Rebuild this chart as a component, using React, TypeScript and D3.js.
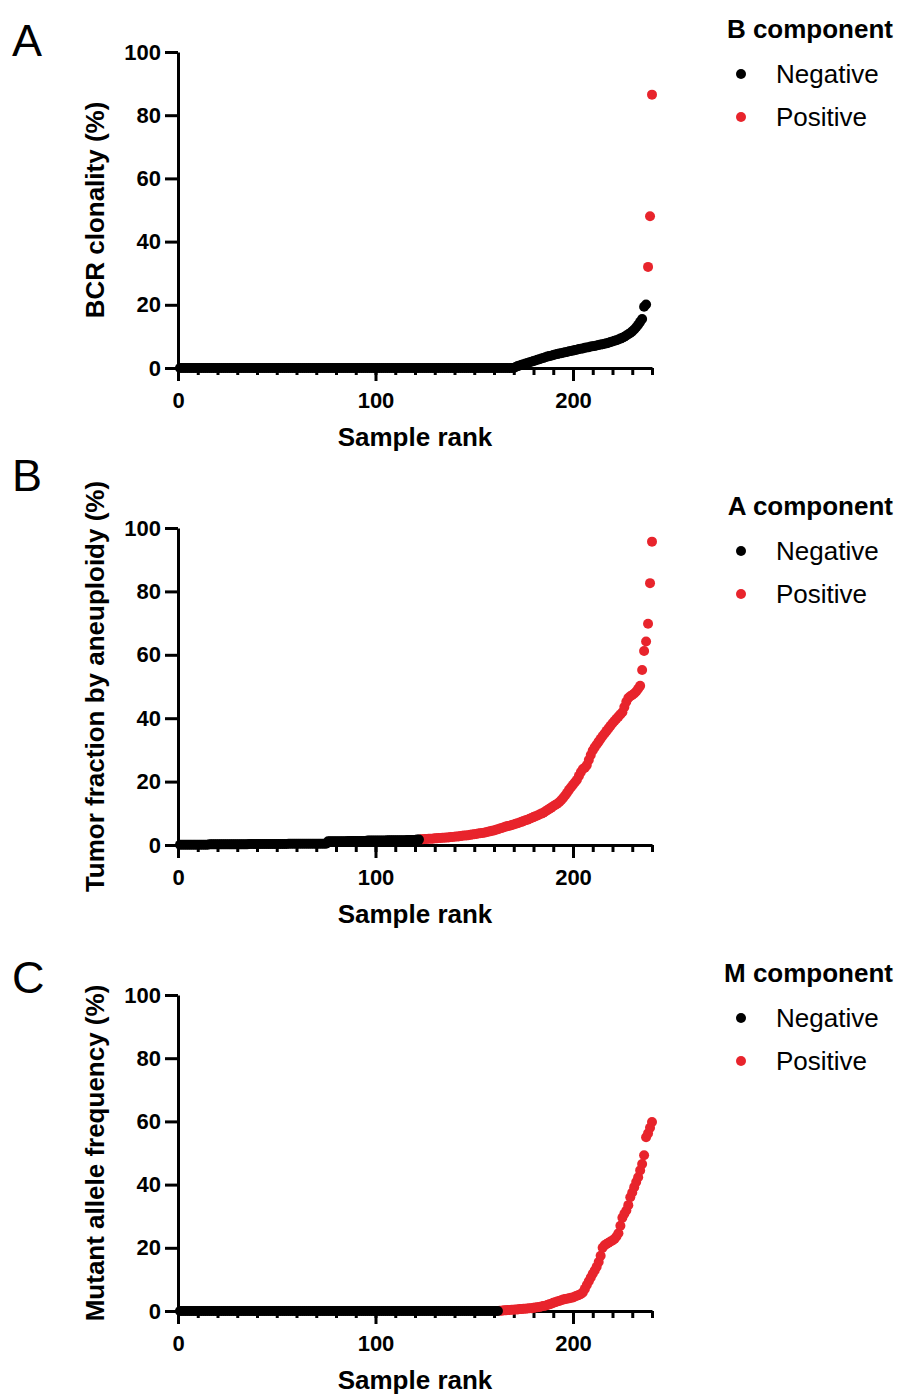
import { useEffect, useRef } from "react";
import * as d3 from "d3";

// sorted values per sample rank, split by call (negative ranks come first)
const BCR_NEGATIVE = [
  0, 0, 0, 0, 0, 0, 0, 0, 0, 0, 0, 0, 0, 0, 0, 0, 0, 0, 0, 0,
  0, 0, 0, 0, 0, 0, 0, 0, 0, 0, 0, 0, 0, 0, 0, 0, 0, 0, 0, 0,
  0, 0, 0, 0, 0, 0, 0, 0, 0, 0, 0, 0, 0, 0, 0, 0, 0, 0, 0, 0,
  0, 0, 0, 0, 0, 0, 0, 0, 0, 0, 0, 0, 0, 0, 0, 0, 0, 0, 0, 0,
  0, 0, 0, 0, 0, 0, 0, 0, 0, 0, 0, 0, 0, 0, 0, 0, 0, 0, 0, 0,
  0, 0, 0, 0, 0, 0, 0, 0, 0, 0, 0, 0, 0, 0, 0, 0, 0, 0, 0, 0,
  0, 0, 0, 0, 0, 0, 0, 0, 0, 0, 0, 0, 0, 0, 0, 0, 0, 0, 0, 0,
  0, 0, 0, 0, 0, 0, 0, 0, 0, 0, 0, 0, 0, 0, 0, 0, 0, 0, 0, 0,
  0, 0, 0, 0, 0, 0, 0, 0, 0, 0,
  0.3, 0.6, 0.8, 1.0, 1.2, 1.4, 1.6, 1.8, 2.0, 2.2,
  2.4, 2.6, 2.8, 3.0, 3.2, 3.4, 3.6, 3.8, 3.9, 4.1,
  4.3, 4.4, 4.6, 4.7, 4.8, 5.0, 5.1, 5.3, 5.4, 5.5,
  5.7, 5.8, 6.0, 6.1, 6.2, 6.4, 6.5, 6.6, 6.8, 6.9,
  7.0, 7.1, 7.3, 7.4, 7.5, 7.7, 7.8, 8.0, 8.2, 8.4,
  8.6, 8.8, 9.0, 9.3, 9.6, 9.9, 10.3, 10.7, 11.1, 11.6,
  12.2, 12.9, 13.7, 14.6, 15.5, 19.4, 20.1,
];
const BCR_POSITIVE = [32.0, 48.0, 86.5];

const ANEU_NEGATIVE = [
  0.1, 0.1, 0.1, 0.1, 0.1, 0.1, 0.1, 0.1, 0.1, 0.1, 0.1, 0.1, 0.1, 0.1, 0.1,
  0.2, 0.2, 0.2, 0.2, 0.2, 0.2, 0.2, 0.2, 0.2, 0.2, 0.2, 0.2, 0.2, 0.2, 0.2, 0.2, 0.2, 0.2, 0.2, 0.2,
  0.3, 0.3, 0.3, 0.3, 0.3, 0.3, 0.3, 0.3, 0.3, 0.3, 0.3, 0.3, 0.3, 0.3, 0.3, 0.3, 0.3, 0.3, 0.3, 0.3,
  0.4, 0.4, 0.4, 0.4, 0.4, 0.4, 0.4, 0.4, 0.4, 0.4, 0.4, 0.4, 0.4, 0.4, 0.4, 0.4, 0.4, 0.4, 0.4, 0.4,
  1.2, 1.2, 1.2, 1.2, 1.2, 1.2, 1.2, 1.2, 1.2, 1.2,
  1.3, 1.3, 1.3, 1.3, 1.3, 1.3, 1.3, 1.3, 1.3, 1.3,
  1.4, 1.4, 1.4, 1.4, 1.4, 1.4, 1.4, 1.4, 1.4, 1.4,
  1.5, 1.5, 1.5, 1.5, 1.5, 1.5, 1.5, 1.5, 1.5, 1.5,
  1.6, 1.6, 1.6, 1.6, 1.6, 1.7, 1.7,
];
const ANEU_POSITIVE = [
  1.8, 1.8, 1.9, 1.9, 2.0, 2.0, 2.0, 2.1,
  2.1, 2.2, 2.2, 2.3, 2.3, 2.4, 2.4, 2.5, 2.5, 2.6,
  2.7, 2.7, 2.8, 2.9, 3.0, 3.0, 3.1, 3.2, 3.3, 3.4,
  3.5, 3.6, 3.7, 3.8, 3.9, 4.0, 4.2, 4.3, 4.5, 4.6,
  4.8, 5.0, 5.2, 5.4, 5.6, 5.8, 6.0, 6.1, 6.3, 6.5,
  6.7, 6.9, 7.1, 7.3, 7.6, 7.8, 8.0, 8.3, 8.5, 8.8,
  9.1, 9.3, 9.6, 9.9, 10.2, 10.6, 11.0, 11.4, 11.8, 12.2,
  12.6, 13.0, 13.5, 14.1, 14.8, 15.6, 16.5, 17.4, 18.2, 19.0,
  19.8, 20.6, 21.8, 23.0, 24.0, 24.4, 25.2, 26.8, 28.4, 29.8,
  30.8, 31.7, 32.6, 33.5, 34.4, 35.2, 36.0, 36.8, 37.6, 38.4,
  39.1, 39.8, 40.5, 41.2, 41.9, 43.5, 45.2, 46.4, 46.9, 47.3,
  47.8, 48.4, 49.3, 50.2, 55.2, 61.2, 64.2, 69.8, 82.6, 95.7,
];

const MAF_NEGATIVE = [
  0, 0, 0, 0, 0, 0, 0, 0, 0, 0, 0, 0, 0, 0, 0, 0, 0, 0, 0, 0,
  0, 0, 0, 0, 0, 0, 0, 0, 0, 0, 0, 0, 0, 0, 0, 0, 0, 0, 0, 0,
  0, 0, 0, 0, 0, 0, 0, 0, 0, 0, 0, 0, 0, 0, 0, 0, 0, 0, 0, 0,
  0, 0, 0, 0, 0, 0, 0, 0, 0, 0, 0, 0, 0, 0, 0, 0, 0, 0, 0, 0,
  0, 0, 0, 0, 0, 0, 0, 0, 0, 0, 0, 0, 0, 0, 0, 0, 0, 0, 0, 0,
  0, 0, 0, 0, 0, 0, 0, 0, 0, 0, 0, 0, 0, 0, 0, 0, 0, 0, 0, 0,
  0, 0, 0, 0, 0, 0, 0, 0, 0, 0, 0, 0, 0, 0, 0, 0, 0, 0, 0, 0,
  0, 0, 0, 0, 0, 0, 0, 0, 0, 0, 0, 0, 0, 0, 0, 0, 0, 0, 0, 0,
  0, 0,
];
const MAF_POSITIVE = [
  0.1, 0.1, 0.2, 0.2, 0.3, 0.3, 0.4, 0.4,
  0.5, 0.5, 0.6, 0.6, 0.7, 0.7, 0.8, 0.9, 0.9, 1.0,
  1.1, 1.2, 1.3, 1.4, 1.6, 1.7, 1.9, 2.1, 2.3, 2.6,
  2.8, 3.0, 3.2, 3.4, 3.6, 3.8, 3.9, 4.0, 4.2, 4.3,
  4.6, 4.8, 5.1, 5.4, 5.9, 7.0, 8.2, 9.4, 10.6, 11.8,
  12.8, 14.0, 15.5, 17.5, 20.0, 20.8, 21.2, 21.6, 22.0, 22.3,
  22.8, 23.6, 24.6, 27.0, 29.5, 30.8, 31.8, 33.5, 36.0, 37.5,
  39.2, 40.8, 42.3, 44.5, 46.5, 49.3, 55.0, 56.2, 58.0, 59.8,
];

const Y_TICKS = [0, 20, 40, 60, 80, 100];
const X_TICKS = [0, 100, 200];
const X_MINOR = d3.range(0, 241, 10);
const LEGEND_LABELS = ["Negative", "Positive"];

const RED = "#e8242c";
const FONT = "'Liberation Sans', Arial, sans-serif";

const PANELS = [
  {
    letter: "A", yTitle: "BCR clonality (%)", legendTitle: "B component",
    top: 52, bottom: 368, letterY: 56, legendY: 38,
    negative: BCR_NEGATIVE, positive: BCR_POSITIVE,
  },
  {
    letter: "B", yTitle: "Tumor fraction by aneuploidy (%)", legendTitle: "A component",
    top: 528, bottom: 845, letterY: 491, legendY: 515,
    negative: ANEU_NEGATIVE, positive: ANEU_POSITIVE,
  },
  {
    letter: "C", yTitle: "Mutant allele frequency (%)", legendTitle: "M component",
    top: 995, bottom: 1311, letterY: 993, legendY: 982,
    negative: MAF_NEGATIVE, positive: MAF_POSITIVE,
  },
];

export default function App() {
  const ref = useRef<SVGSVGElement>(null);

  useEffect(() => {
    const svg = d3.select(ref.current);
    svg.selectAll("*").remove();

    const x = d3.scaleLinear().domain([0, 240]).range([178, 652]);

    PANELS.forEach((p) => {
      const g = svg.append("g");
      const y = d3.scaleLinear().domain([0, 100]).range([p.bottom, p.top]);

      // panel letter
      g.append("text")
        .attr("x", 12)
        .attr("y", p.letterY)
        .attr("font-size", 45)
        .attr("font-family", FONT)
        .text(p.letter);

      // y axis
      const yAxis = g
        .append("g")
        .attr("transform", `translate(${x(0)},0)`)
        .call(d3.axisLeft(y).tickValues(Y_TICKS).tickSize(13).tickSizeOuter(0).tickPadding(4));
      yAxis.selectAll("path, line").attr("stroke", "#000").attr("stroke-width", 3);
      yAxis.selectAll("text")
        .attr("font-size", 22)
        .attr("font-weight", "bold")
        .attr("font-family", FONT)
        .attr("fill", "#000");

      // x axis: minor ticks every 10, major every 100
      const xMinor = g
        .append("g")
        .attr("transform", `translate(0,${p.bottom})`)
        .call(d3.axisBottom(x).tickValues(X_MINOR).tickSize(7).tickSizeOuter(0).tickFormat(() => ""));
      xMinor.selectAll("path, line").attr("stroke", "#000").attr("stroke-width", 3);

      const xAxis = g
        .append("g")
        .attr("transform", `translate(0,${p.bottom})`)
        .call(d3.axisBottom(x).tickValues(X_TICKS).tickSize(13).tickSizeOuter(0).tickPadding(11));
      xAxis.select("path").remove();
      xAxis.selectAll("line").attr("stroke", "#000").attr("stroke-width", 3);
      xAxis.selectAll("text")
        .attr("font-size", 22)
        .attr("font-weight", "bold")
        .attr("font-family", FONT)
        .attr("fill", "#000");

      // axis titles
      g.append("text")
        .attr("transform", `translate(104,${(p.top + p.bottom) / 2}) rotate(-90)`)
        .attr("text-anchor", "middle")
        .attr("font-size", 26)
        .attr("font-weight", "bold")
        .attr("font-family", FONT)
        .text(p.yTitle);

      g.append("text")
        .attr("x", x(120))
        .attr("y", p.bottom + 78)
        .attr("text-anchor", "middle")
        .attr("font-size", 26)
        .attr("font-weight", "bold")
        .attr("font-family", FONT)
        .text("Sample rank");

      // points: positives underneath, negatives on top
      const nNeg = p.negative.length;
      g.append("g")
        .selectAll("circle")
        .data(p.positive)
        .join("circle")
        .attr("cx", (_d, i) => x(nNeg + i + 1))
        .attr("cy", (d) => y(d))
        .attr("r", 5)
        .attr("fill", RED);
      g.append("g")
        .selectAll("circle")
        .data(p.negative)
        .join("circle")
        .attr("cx", (_d, i) => x(i + 1))
        .attr("cy", (d) => y(d))
        .attr("r", 5)
        .attr("fill", "#000");

      // legend
      g.append("text")
        .attr("x", 893)
        .attr("y", p.legendY)
        .attr("text-anchor", "end")
        .attr("font-size", 26)
        .attr("font-weight", "bold")
        .attr("font-family", FONT)
        .text(p.legendTitle);
      LEGEND_LABELS.forEach((label, i) => {
        const cy = p.legendY + 36 + i * 43;
        g.append("circle")
          .attr("cx", 741)
          .attr("cy", cy)
          .attr("r", 5)
          .attr("fill", i === 0 ? "#000" : RED);
        g.append("text")
          .attr("x", 776)
          .attr("y", cy + 9)
          .attr("font-size", 26)
          .attr("font-family", FONT)
          .text(label);
      });
    });
  }, []);

  return (
    <svg
      ref={ref}
      width={899}
      height={1395}
      style={{ position: "absolute", left: 0, top: 0, background: "#fff" }}
    />
  );
}
